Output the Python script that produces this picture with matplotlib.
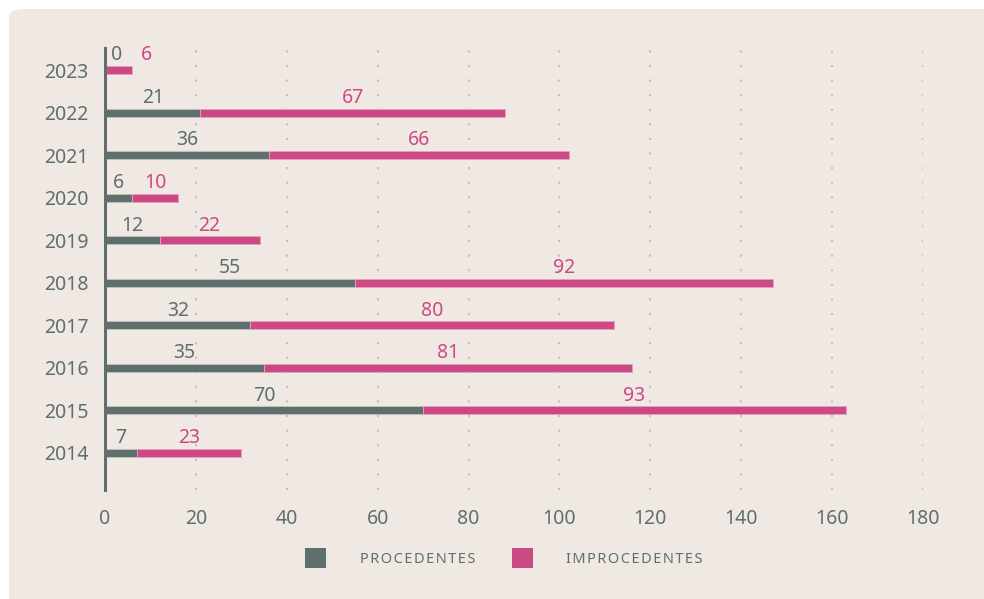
import matplotlib.pyplot as plt
from matplotlib.patches import FancyBboxPatch, Patch

# Reclamações por ano
anos = ['2014', '2015', '2016', '2017', '2018', '2019', '2020', '2021', '2022', '2023']
procedentes = [7, 70, 35, 32, 55, 12, 6, 36, 21, 0]
improcedentes = [23, 93, 81, 80, 92, 22, 10, 66, 67, 6]
x_ticks = [0, 20, 40, 60, 80, 100, 120, 140, 160, 180]
legenda = ['PROCEDENTES', 'IMPROCEDENTES']

cinza = '#5f6f6e'
rosa = '#cc4a84'
fundo = '#f0e8e3'

plt.rcParams['font.family'] = ['Noto Sans', 'DejaVu Sans']


def espacado(txt):
    # letras com espaçamento extra na legenda
    return '\u200a'.join(txt)


fig = plt.figure(figsize=(9.84, 5.99), dpi=100)
fig.patch.set_facecolor('white')

# painel de fundo com canto arredondado
painel = FancyBboxPatch((9 / 984, -0.05), 1.2, 1 - 9 / 599 + 0.05,
                        boxstyle='round,pad=0,rounding_size=0.015',
                        transform=fig.transFigure, facecolor=fundo,
                        edgecolor='none', zorder=-10)
fig.add_artist(painel)

ax = fig.add_axes([105 / 984, 1 - 490 / 599, (923 - 105) / 984, (490 - 48) / 599])
ax.set_facecolor('none')

y = list(range(len(anos)))
h = 0.19
ax.barh(y, procedentes, height=h, color=cinza, edgecolor='#c8c4bf', linewidth=0.6, zorder=3)
ax.barh(y, improcedentes, left=procedentes, height=h, color=rosa, edgecolor='#e8a0bf',
        linewidth=0.6, zorder=3)

for yi, p, i in zip(y, procedentes, improcedentes):
    xp = max(p / 2, 2.6)
    xi = max(p + i / 2, xp + 6.5)
    ax.annotate(str(p), (xp, yi), xytext=(0, 7), textcoords='offset points',
                ha='center', va='baseline', fontsize=14, color=cinza, zorder=4)
    ax.annotate(str(i), (xi, yi), xytext=(0, 7), textcoords='offset points',
                ha='center', va='baseline', fontsize=14, color=rosa, zorder=4)

ax.set_xlim(0, 180)
ax.set_ylim(-0.87, 9.52)
ax.set_xticks(x_ticks)
ax.set_yticks(y)
ax.set_yticklabels(anos)
ax.tick_params(axis='both', length=0, labelsize=14, labelcolor=cinza)
ax.tick_params(axis='x', pad=14)
ax.tick_params(axis='y', pad=12)

for v in x_ticks[1:]:
    ax.axvline(v, color='#c4bfbb', linestyle=(0, (1, 6)), linewidth=1.5, zorder=1)

for s in ['top', 'right', 'bottom']:
    ax.spines[s].set_visible(False)
ax.spines['left'].set_color(cinza)
ax.spines['left'].set_linewidth(2.2)
ax.spines['left'].set_zorder(5)

handles = [Patch(facecolor=cinza, label=espacado(legenda[0])),
           Patch(facecolor=rosa, label=espacado(legenda[1]))]
leg = fig.legend(handles=handles, loc='center', bbox_to_anchor=(504 / 984, 1 - 558 / 599),
                 ncol=2, frameon=False, fontsize=10.5, handlelength=1.45, handleheight=1.8,
                 handletextpad=2.3, columnspacing=2.5)
for t in leg.get_texts():
    t.set_color(cinza)

fig.savefig('out.png', dpi=100, facecolor=fig.get_facecolor())
